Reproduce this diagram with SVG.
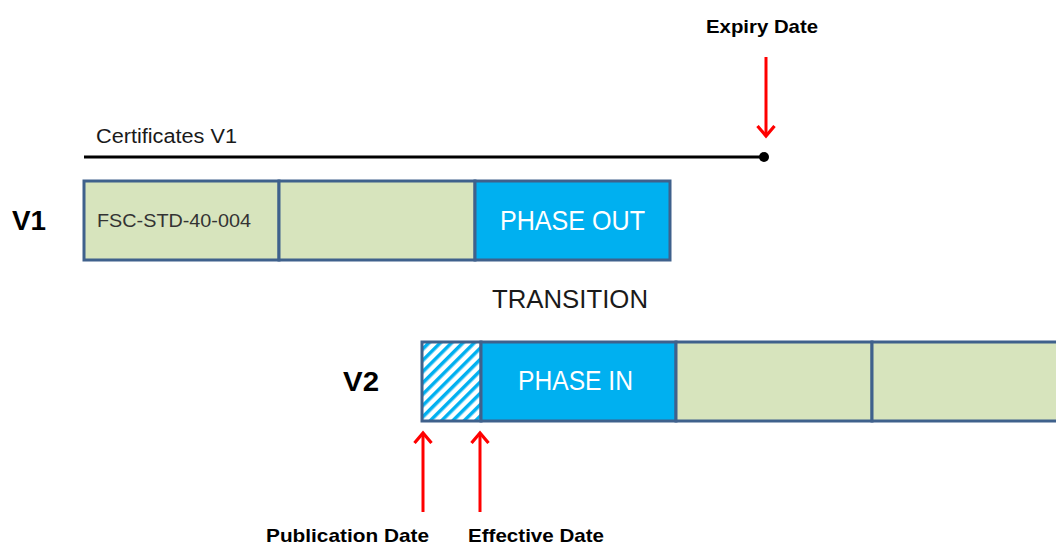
<svg xmlns="http://www.w3.org/2000/svg" width="1056" height="544" viewBox="0 0 1056 544">
<style>
.box{stroke:#3f618c;stroke-width:3}
.green{fill:#d7e4bd}
.blue{fill:#00b0f0}
.t{font-family:"Liberation Sans",Arial,sans-serif}
.b{font-weight:bold;fill:#000}
.w{fill:#fff}
.arrow{stroke:#ff0000;stroke-width:3;fill:none}
</style>
<defs>
<pattern id="hatch" patternUnits="userSpaceOnUse" width="8" height="8" patternTransform="rotate(45)">
<rect width="8" height="8" fill="#fff"/>
<rect x="0" y="0" width="3.5" height="8" fill="#00b0f0"/>
</pattern>
<marker id="head" markerWidth="22" markerHeight="22" refX="11" refY="11" orient="auto" markerUnits="userSpaceOnUse">
<path d="M1,2.5 L11,11 L1,19.5" fill="none" stroke="#ff0000" stroke-width="3.2"/>
</marker>
</defs>
<g id="v1-label"><text class="t b" x="12" y="230" font-size="28" textLength="34" lengthAdjust="spacingAndGlyphs">V1</text></g>
<g id="v2-label"><text class="t b" x="343" y="391" font-size="28" textLength="36" lengthAdjust="spacingAndGlyphs">V2</text></g>
<g id="certificates-v1">
<text class="t" x="96" y="143" font-size="19.5" fill="#1a1a1a" textLength="141" lengthAdjust="spacingAndGlyphs">Certificates  V1</text>
<line x1="84" y1="157" x2="764" y2="157" stroke="#000" stroke-width="3"/>
<circle cx="764" cy="157" r="5" fill="#000"/>
</g>
<g id="v1-bar">
<rect class="box green" x="84" y="181" width="195" height="79"/>
<rect class="box green" x="279" y="181" width="196" height="79"/>
<rect class="box blue" x="475" y="181" width="195" height="79"/>
<text class="t" x="97" y="227" font-size="19" fill="#333" textLength="154" lengthAdjust="spacingAndGlyphs">FSC-STD-40-004</text>
<text class="t w" x="500" y="230" font-size="28" textLength="145" lengthAdjust="spacingAndGlyphs">PHASE OUT</text>
</g>
<g id="transition"><text class="t" x="492" y="308" font-size="25" fill="#1a1a1a" textLength="156" lengthAdjust="spacingAndGlyphs">TRANSITION</text></g>
<g id="v2-bar">
<rect class="box" fill="url(#hatch)" x="422" y="342" width="59" height="79"/>
<rect class="box blue" x="481" y="342" width="195" height="79"/>
<rect class="box green" x="676" y="342" width="196" height="79"/>
<rect class="box green" x="872" y="342" width="200" height="79"/>
<text class="t w" x="518" y="390" font-size="28" textLength="115" lengthAdjust="spacingAndGlyphs">PHASE IN</text>
</g>
<g id="expiry-date"><text class="t b" x="706" y="33" font-size="19" textLength="112" lengthAdjust="spacingAndGlyphs">Expiry Date</text></g>
<g id="publication-date"><text class="t b" x="266" y="542" font-size="19" textLength="163" lengthAdjust="spacingAndGlyphs">Publication Date</text></g>
<g id="effective-date"><text class="t b" x="468" y="542" font-size="19" textLength="136" lengthAdjust="spacingAndGlyphs">Effective Date</text></g>
<g id="connectors">
<line class="arrow" x1="766" y1="57" x2="766" y2="136" marker-end="url(#head)"/>
<line class="arrow" x1="423" y1="512" x2="423" y2="433" marker-end="url(#head)"/>
<line class="arrow" x1="480" y1="512" x2="480" y2="433" marker-end="url(#head)"/>
</g>
</svg>
